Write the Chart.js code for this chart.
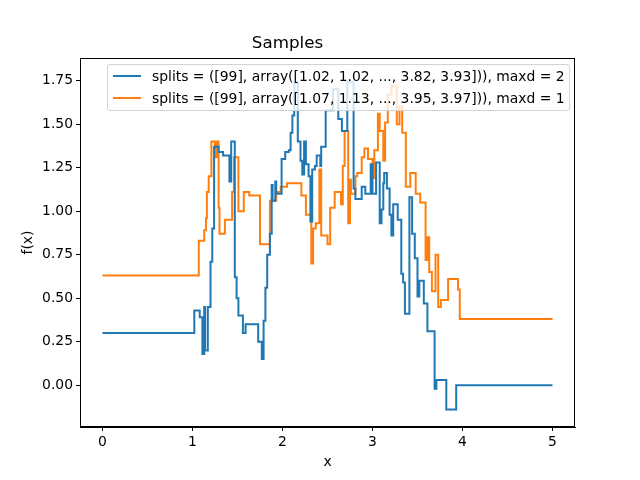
<!DOCTYPE html>
<html>
<head>
<meta charset="utf-8">
<script src="https://cdn.jsdelivr.net/npm/chart.js@4"></script>
<style>
  html, body { margin: 0; padding: 0; background: #fff; }
  #wrap { position: relative; width: 640px; height: 480px; }
  #legend {
    position: absolute; left: 107px; top: 64px; width: 461px; height: 45px;
    background: rgba(255,255,255,0.8); border: 1px solid #d3d3d3; border-radius: 3px;
    font-family: "DejaVu Sans", sans-serif; font-size: 13.9px; color: #000;
  }
  .legend-item { position: absolute; left: 0; height: 20px; display: flex; align-items: center; white-space: nowrap; }
  .legend-line { display: inline-block; width: 28px; height: 2px; margin-left: 5px; margin-right: 11px; }
</style>
</head>
<body>
<div id="wrap">
  <canvas id="chart" width="640" height="480"></canvas>
  <div id="legend"></div>
</div>
<script>
const seriesLabels = [
    'splits = ([99], array([1.02, 1.02, ..., 3.82, 3.93])), maxd = 2',
    'splits = ([99], array([1.07, 1.13, ..., 3.95, 3.97])), maxd = 1'
];
const seriesColors = ['#1f77b4', '#ff7f0e'];

const xTicks = [0, 1, 2, 3, 4, 5];
const yTicks = [0, 0.25, 0.5, 0.75, 1, 1.25, 1.5, 1.75];

const blueX = [0, 1.02, 1.08, 1.11, 1.13, 1.14, 1.17, 1.20, 1.22, 1.24,
    1.29, 1.34, 1.41, 1.43, 1.47, 1.49, 1.51, 1.56, 1.59, 1.73,
    1.77, 1.79, 1.81, 1.83, 1.86, 1.88, 1.89, 1.92, 1.93, 1.99,
    2.03, 2.07, 2.09, 2.11, 2.13, 2.17, 2.20, 2.22, 2.24, 2.26,
    2.29, 2.31, 2.33, 2.36, 2.38, 2.42, 2.43, 2.48, 2.56, 2.62,
    2.66, 2.72, 2.79, 2.81, 2.88, 2.92, 2.98, 3.00, 3.04, 3.08,
    3.10, 3.12, 3.13, 3.16, 3.19, 3.21, 3.23, 3.28, 3.32, 3.34,
    3.36, 3.41, 3.44, 3.47, 3.50, 3.52, 3.57, 3.61, 3.69, 3.71,
    3.82, 3.93, 5.00];
const blueY = [0.30, 0.43, 0.39, 0.18, 0.45, 0.20, 0.45, 0.71, 0.90, 1.37,
    1.34, 1.32, 1.17, 1.40, 0.62, 0.50, 0.40, 0.30, 0.35, 0.25,
    0.15, 0.37, 0.56, 0.75, 0.87, 1.15, 1.06, 1.17, 1.10, 1.30,
    1.34, 1.35, 1.45, 1.55, 1.74, 1.40, 1.29, 1.21, 1.40, 1.27,
    1.20, 0.94, 1.24, 1.26, 1.32, 1.26, 1.37, 1.58, 1.70, 1.53,
    1.46, 1.74, 1.13, 1.07, 1.14, 1.10, 1.27, 1.10, 1.28, 0.93,
    1.01, 1.16, 1.22, 1.13, 0.98, 0.86, 1.04, 0.95, 0.64, 0.59,
    0.41, 1.08, 0.87, 0.73, 0.51, 0.60, 0.47, 0.31, -0.02, 0.03,
    -0.14, 0.00, 0.00];

const orangeX = [0, 1.07, 1.13, 1.15, 1.16, 1.18, 1.21, 1.25, 1.27, 1.29,
    1.30, 1.36, 1.44, 1.46, 1.51, 1.57, 1.63, 1.75, 1.86, 1.93,
    1.98, 2.05, 2.21, 2.26, 2.32, 2.34, 2.37, 2.41, 2.43, 2.50,
    2.53, 2.58, 2.65, 2.67, 2.69, 2.73, 2.75, 2.76, 2.81, 2.83,
    2.88, 2.91, 2.95, 3.00, 3.02, 3.06, 3.08, 3.12, 3.14, 3.17,
    3.21, 3.27, 3.30, 3.33, 3.37, 3.42, 3.48, 3.53, 3.59, 3.61,
    3.63, 3.66, 3.70, 3.73, 3.76, 3.84, 3.95, 3.97, 5.00];
const orangeY = [0.63, 0.83, 0.89, 0.96, 1.11, 1.20, 1.40, 1.31, 1.40, 1.02,
    0.87, 0.95, 1.11, 1.31, 1.00, 1.11, 1.09, 0.81, 1.06, 1.11,
    1.14, 1.16, 1.09, 0.98, 0.70, 0.90, 0.93, 1.24, 0.86, 0.81,
    1.02, 1.11, 1.04, 1.26, 1.46, 0.93, 1.18, 1.10, 1.20, 1.22,
    1.31, 1.36, 1.30, 1.19, 1.35, 1.56, 1.46, 1.29, 1.51, 1.67,
    1.72, 1.50, 1.60, 1.45, 1.14, 1.22, 1.10, 1.05, 0.72, 0.85,
    0.65, 0.54, 0.75, 0.45, 0.49, 0.61, 0.55, 0.38, 0.38];

const font = { family: 'DejaVu Sans', size: 13.9 };

function toPoints(xs, ys) {
    return xs.map((x, i) => ({ x: x, y: ys[i] }));
}

const frame = {
    id: 'frame',
    afterDraw(chart) {
        const a = chart.chartArea;
        const ctx = chart.ctx;
        ctx.save();
        ctx.strokeStyle = '#000';
        ctx.lineWidth = 1;
        ctx.strokeRect(Math.round(a.left) + 0.5, Math.round(a.top) + 0.5,
            Math.round(a.right - a.left) - 1, Math.round(a.bottom - a.top) - 1);
        ctx.restore();
    }
};

function axisCommon(ticks) {
    return {
        type: 'linear',
        afterBuildTicks: (axis) => { axis.ticks = ticks.map((v) => ({ value: v })); },
        grid: { drawOnChartArea: false, drawTicks: true, tickLength: 4, color: '#000' },
        border: { display: true, color: '#000' },
        ticks: { font: font, color: '#000', padding: 3, maxRotation: 0 }
    };
}

const xAxis = axisCommon(xTicks);
xAxis.min = -0.25;
xAxis.max = 5.25;
xAxis.ticks.callback = (v) => String(v);
xAxis.title = { display: true, text: 'x', font: font, color: '#000', padding: { top: 0, bottom: 9 } };
xAxis.afterFit = (axis) => { axis.height = 53; };

const yAxis = axisCommon(yTicks);
yAxis.min = -0.24;
yAxis.max = 1.88;
yAxis.ticks.callback = (v) => Number(v).toFixed(2);
yAxis.title = { display: true, text: 'f(x)', font: font, color: '#000', padding: { top: 20, bottom: 0 } };
yAxis.afterFit = (axis) => { axis.width = 80; };

new Chart(document.getElementById('chart').getContext('2d'), {
    type: 'line',
    data: {
        datasets: [
            { label: seriesLabels[0], data: toPoints(blueX, blueY), borderColor: seriesColors[0], borderWidth: 2, stepped: 'before', pointRadius: 0, fill: false },
            { label: seriesLabels[1], data: toPoints(orangeX, orangeY), borderColor: seriesColors[1], borderWidth: 2, stepped: 'before', pointRadius: 0, fill: false }
        ]
    },
    options: {
        responsive: false,
        animation: false,
        devicePixelRatio: 1,
        layout: { padding: { left: 0, right: 65, top: 0, bottom: 0 } },
        scales: { x: xAxis, y: yAxis },
        plugins: {
            legend: { display: false },
            tooltip: { enabled: false },
            title: {
                display: true, text: 'Samples', color: '#000',
                font: { family: 'DejaVu Sans', size: 16.7, weight: 'normal', lineHeight: 1.2 },
                padding: { top: 34, bottom: 3.96 }
            }
        }
    },
    plugins: [frame]
});

const legendEl = document.getElementById('legend');
seriesLabels.forEach((label, index) => {
    const item = document.createElement('div');
    item.className = 'legend-item';
    item.style.top = (1 + index * 22) + 'px';
    item.innerHTML = `<span class="legend-line" style="background-color: ${seriesColors[index]}"></span><span>${label}</span>`;
    legendEl.appendChild(item);
});
</script>
</body>
</html>
